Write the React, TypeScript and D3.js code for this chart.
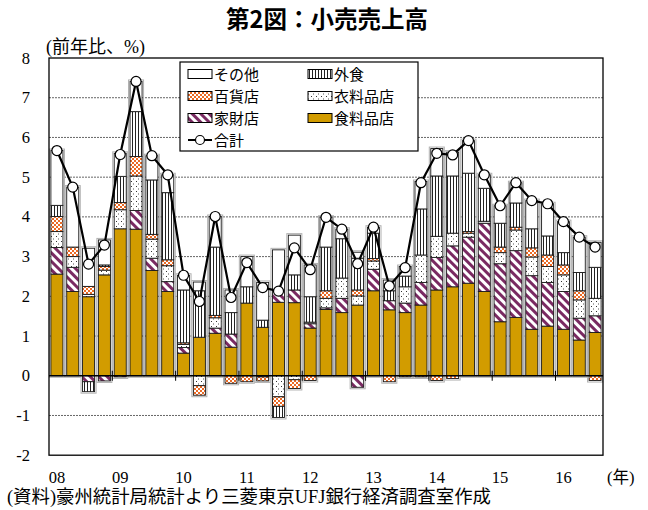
import React from 'react';
import * as d3 from 'd3';

const yearLabels = ['08', '09', '10', '11', '12', '13', '14', '15', '16'];
const categories = yearLabels.flatMap(y => ['Q1', 'Q2', 'Q3', 'Q4'].map(q => `${y}${q}`)).slice(0, 35);

// 食料品店
const food = [2.56, 2.12, 1.99, 2.54, 3.70, 3.69, 2.65, 2.12, 0.57, 0.97, 1.07, 0.72, 1.83, 1.22, 1.85, 1.84, 1.20, 1.67, 1.59, 1.78, 2.14, 1.66, 1.59, 1.78, 2.16, 2.24, 2.33, 2.12, 1.36, 1.47, 1.17, 1.25, 1.17, 0.90, 1.09];
// 家財店
const household = [0.67, 0.61, -0.15, -0.13, -0.03, 0.47, 0.31, 0.25, 0.14, 0, 0.13, 0.33, 0, -0.03, 0.31, 0.32, 0.11, 0.04, 0.36, -0.29, 0.54, 0.23, 0.24, 0.57, 0.82, 1.03, 1.16, 1.72, 1.46, 1.68, 1.35, 1.10, 0.95, 0.55, 0.42];
// 衣料品店
const clothing = [0.40, 0.27, 0.06, 0.12, 0.48, 0.87, 0.48, 0.40, 0.08, -0.25, 0.26, 0, 0, 0, -0.53, -0.10, 0.04, 0.24, 0.51, 0.23, 0.21, 0, 0.41, 0.69, 0.53, 0.32, 0.10, 0.05, 0.28, 0.52, 0.47, 0.40, 0.42, 0.46, 0.44];
// 百貨店
const department = [0.38, 0.24, 0.20, 0.09, 0.18, 0.49, 0.12, 0.15, 0.04, -0.24, 0.06, -0.19, -0.15, -0.10, -0.24, -0.22, -0.12, 0.19, 0, 0.15, 0.06, -0.15, -0.03, -0.03, -0.12, -0.07, 0.04, 0, 0.14, 0.07, 0.23, 0.29, 0.25, 0.23, -0.12];
// 外食
const cafes = [0.28, 0, -0.25, 0.04, 0.66, 1.13, 1.37, 1.69, 1.33, 1.17, 1.72, 0.54, 0.41, 0.18, -0.28, 0.38, 0.64, 1.10, 0.99, 0.80, 0.64, 0.25, 0.27, 1.16, 1.52, 1.44, 1.47, 0.83, 0.60, 0.61, 0.48, 0.48, 0.31, 0.46, 0.78];
// その他
const other = [1.38, 1.51, 0.96, 0.63, 0.58, 0.76, 0.61, 0.45, 0.37, 0.22, 0.77, 0.57, 0.76, 0.95, 1.01, 1.00, 0.80, 0.75, 0.24, 0.15, 0.15, 0.27, 0.24, 0.69, 0.69, 0.60, 0.82, 0.34, 0.44, 0.51, 0.71, 0.81, 0.78, 0.89, 0.63];
// 合計
const total = [5.67, 4.75, 2.81, 3.29, 5.57, 7.41, 5.54, 5.06, 2.53, 1.87, 4.01, 1.97, 2.85, 2.22, 2.13, 3.22, 2.67, 3.99, 3.69, 2.82, 3.74, 2.26, 2.72, 4.86, 5.60, 5.56, 5.92, 5.06, 4.28, 4.86, 4.41, 4.33, 3.88, 3.49, 3.24];

const yTicks = [-2, -1, 0, 1, 2, 3, 4, 5, 6, 7, 8];
const gridValues = [-1, 1, 2, 3, 4, 5, 6, 7];

const JP = '"Noto Sans CJK JP", sans-serif';
const SERIF_JP = '"Liberation Serif", "Noto Sans CJK JP", serif';
const SERIF = '"Liberation Serif", serif';

const keys = ['food', 'household', 'clothing', 'department', 'cafes', 'other'];
const seriesData: Record<string, number[]> = { food, household, clothing, department, cafes, other };
const fills: Record<string, string> = {
  food: '#D29C00',
  household: 'url(#pHouse)',
  clothing: 'url(#pCloth)',
  department: 'url(#pDept)',
  cafes: 'url(#pCafe)',
  other: '#ffffff',
};

export default function App() {
  const left = 49, right = 603, top = 58, bottom = 455.2;
  const x = d3.scaleBand<number>().domain(d3.range(categories.length)).range([left, right]).paddingInner(0.24).paddingOuter(0.12);
  const y = d3.scaleLinear().domain([-2, 8]).range([bottom, top]);
  const bw = x.bandwidth();
  const step = x.step();

  const rows = categories.map((c, i) => {
    const r: any = { cat: c };
    keys.forEach(k => (r[k] = seriesData[k][i]));
    return r;
  });
  const series = d3.stack<any>().keys(keys).offset(d3.stackOffsetDiverging)(rows);
  const extents = categories.map((_, i) => {
    let lo = 0, hi = 0;
    series.forEach(s => { lo = Math.min(lo, s[i][0]); hi = Math.max(hi, s[i][1]); });
    return [lo, hi];
  });
  const line = d3.line<number>().x((_, i) => (x(i) as number) + bw / 2).y(d => y(d));

  const legend = [
    { key: 'other', label: 'その他', col: 0, row: 0 },
    { key: 'cafes', label: '外食', col: 1, row: 0 },
    { key: 'department', label: '百貨店', col: 0, row: 1 },
    { key: 'clothing', label: '衣料品店', col: 1, row: 1 },
    { key: 'household', label: '家財店', col: 0, row: 2 },
    { key: 'food', label: '食料品店', col: 1, row: 2 },
  ];
  const rowY = [74, 96, 118, 140];
  const colX = [188, 308];

  return (
    <svg width={648} height={510} style={{ position: 'absolute', left: 0, top: 0, background: '#fff' }}>
      <defs>
        <pattern id="pCafe" patternUnits="userSpaceOnUse" width={3} height={10}>
          <rect width={3} height={10} fill="#fff" />
          <rect x={0} width={1} height={10} fill="#222" />
        </pattern>
        <pattern id="pDept" patternUnits="userSpaceOnUse" width={4} height={4}>
          <rect width={4} height={4} fill="#EC6A24" />
          <rect x={0} y={0} width={2} height={2} fill="#fff" />
          <rect x={2} y={2} width={2} height={2} fill="#fff" />
        </pattern>
        <pattern id="pCloth" patternUnits="userSpaceOnUse" width={5} height={5}>
          <rect width={5} height={5} fill="#fff" />
          <rect x={1} y={1} width={1} height={1} fill="#333" />
          <rect x={3} y={3.5} width={1} height={1} fill="#555" />
        </pattern>
        <pattern id="pHouse" patternUnits="userSpaceOnUse" width={6} height={6} patternTransform="rotate(-45)">
          <rect width={6} height={6} fill="#fff" />
          <rect x={0} width={3} height={6} fill="#7A2A62" />
        </pattern>
      </defs>

      {/* title */}
      <text x={327} y={28} textAnchor="middle" fontFamily={JP} fontWeight="bold" fontSize={23.5} fill="#000">第2図：小売売上高</text>
      {/* y-axis unit */}
      <text x={46} y={53} fontFamily={SERIF_JP} fontSize={18} fill="#000">(前年比、%)</text>

      {/* grid lines */}
      {gridValues.map(v => (
        <line key={v} x1={left} x2={right} y1={y(v)} y2={y(v)} stroke="#666" strokeWidth={1} strokeDasharray="2,1" />
      ))}

      {/* bar outlines */}
      {categories.map((c, i) => {
        const [lo, hi] = extents[i];
        return (
          <rect key={'o' + c} x={(x(i) as number) - 1.5} width={bw + 3} y={y(hi) - 1.5} height={y(lo) - y(hi) + 3} fill="none" stroke="#b0b0b0" strokeWidth={1} />
        );
      })}
      {series.map(s => (
        <g key={s.key}>
          {s.map((d, i) => {
            const h = Math.abs(y(d[0]) - y(d[1]));
            if (h < 0.01) return null;
            return (
              <rect key={i} x={x(i)} width={bw} y={Math.min(y(d[0]), y(d[1]))} height={h} fill={fills[s.key]} stroke="#1a1a1a" strokeWidth={0.9} />
            );
          })}
        </g>
      ))}

      {/* zero line and year ticks */}
      <line x1={left} x2={right} y1={y(0)} y2={y(0)} stroke="#000" strokeWidth={1.3} />
      {yearLabels.slice(1).map((yl, k) => {
        const bx = (x((k + 1) * 4) as number) - (step - bw) / 2;
        return <line key={yl} x1={bx} x2={bx} y1={y(0) - 5} y2={y(0) + 5} stroke="#000" strokeWidth={1} />;
      })}

      {/* plot border */}
      <rect x={left} y={top} width={right - left} height={bottom - top} fill="none" stroke="#000" strokeWidth={1.3} />

      {/* total line */}
      <path d={line(total) || ''} fill="none" stroke="#000" strokeWidth={2.2} />
      {total.map((v, i) => (
        <circle key={i} cx={(x(i) as number) + bw / 2} cy={y(v)} r={5} fill="#fff" stroke="#000" strokeWidth={1.2} />
      ))}

      {/* y tick labels */}
      {yTicks.map(v => (
        <text key={v} x={30} y={y(v) + 5.5} textAnchor="end" fontFamily={SERIF} fontSize={16.5} fill="#000">{v}</text>
      ))}

      {/* x labels */}
      {yearLabels.map((yl, k) => (
        <text key={yl} x={(x(k * 4) as number) + bw / 2} y={483} textAnchor="middle" fontFamily={SERIF} fontSize={16.5} fill="#000">{yl}</text>
      ))}
      <text x={607} y={483} fontFamily={SERIF_JP} fontSize={16.5} fill="#000">(年)</text>

      {/* legend */}
      <rect x={180} y={62} width={238} height={89} fill="#fff" stroke="#000" strokeWidth={1.2} />
      {legend.map(l => (
        <g key={l.key}>
          <rect x={colX[l.col]} y={rowY[l.row] - 4.5} width={24} height={9} fill={fills[l.key]} stroke="#000" strokeWidth={1} />
          <text x={colX[l.col] + 26} y={rowY[l.row] + 5.5} fontFamily={JP} fontSize={15} fill="#000">{l.label}</text>
        </g>
      ))}
      <line x1={188} x2={212} y1={rowY[3]} y2={rowY[3]} stroke="#000" strokeWidth={2} />
      <circle cx={200} cy={rowY[3]} r={4.5} fill="#fff" stroke="#000" strokeWidth={1.2} />
      <text x={214} y={rowY[3] + 5.5} fontFamily={JP} fontSize={15} fill="#000">合計</text>

      {/* source */}
      <text x={7} y={503} fontFamily={SERIF_JP} fontSize={18.4} fill="#000">(資料)豪州統計局統計より三菱東京UFJ銀行経済調査室作成</text>
    </svg>
  );
}
